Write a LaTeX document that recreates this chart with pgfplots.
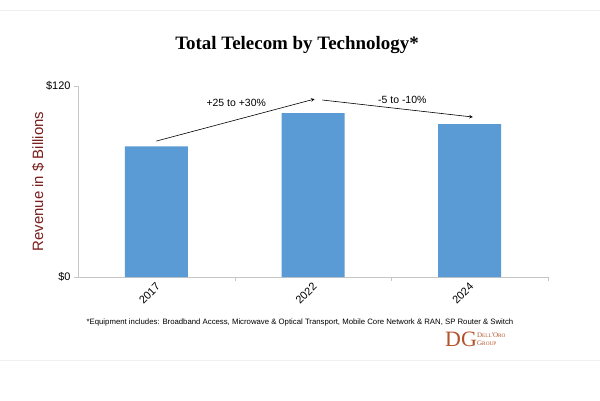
\documentclass[border=0pt]{standalone}
\usepackage{pgfplots}
\pgfplotsset{compat=1.18}
\usepackage{fontspec}
\setmainfont{Liberation Sans}
\newfontfamily\seriffont{Liberation Serif}
\definecolor{barblue}{HTML}{5B9BD5}
\definecolor{ylabred}{HTML}{7B1E1E}
\definecolor{logo}{HTML}{B4532A}
\begin{document}
\begin{tikzpicture}[x=1bp,y=1bp]
\path[use as bounding box,fill=white] (0,0) rectangle (600,400);
\draw[gray!12,line width=0.6bp] (0,390) -- (600,390);
\draw[gray!12,line width=0.6bp] (0,40) -- (600,40);
\node[font=\seriffont\bfseries\fontsize{19}{22}\selectfont] at (297,355) {Total Telecom by Technology*};
\begin{axis}[
  at={(78bp,123bp)}, anchor=south west,
  scale only axis, width=470bp, height=191bp,
  xmin=-0.5, xmax=2.5, ymin=0, ymax=120,
  axis x line*=bottom, axis y line*=left,
  axis line style={-, draw=gray!45, line width=0.7bp},
  xtick={0,1,2}, xticklabels={2017,2022,2024},
  minor xtick={0.5,1.5,2.5},
  major x tick style={draw=none},
  minor x tick style={draw=gray!45},
  ytick={0,120}, yticklabels={\$0,\$120},
  y tick style={draw=gray!45},
  tick align=outside, major tick length=4bp, minor tick length=4bp,
  /pgf/number format/assume math mode=true,
  tick label style={font=\fontsize{11}{13}\selectfont},
  x tick label style={rotate=45, anchor=east, yshift=-4bp, xshift=2bp},
  ylabel={Revenue in \$ Billions},
  ylabel style={font=\fontsize{15}{17}\selectfont, text=ylabred},
  ylabel shift=-5bp,
  clip=false,
]
\addplot[ybar, bar width=63bp, fill=barblue, draw=none] coordinates {(0,82) (1,103) (2,96)};
\draw[-stealth, line width=0.6bp] (axis cs:0.0,85.4) -- (axis cs:1.01,111.8);
\draw[-stealth, line width=0.6bp] (axis cs:1.06,111.2) -- (axis cs:2.02,100.5);
\node[font=\fontsize{10.5}{12}\selectfont] at (axis cs:0.51,109.5) {+25 to +30\%};
\node[font=\fontsize{10.5}{12}\selectfont] at (axis cs:1.57,111.5) {-5 to -10\%};
\end{axis}
\node[font=\fontsize{7.8}{9}\selectfont] at (300,78) {*Equipment includes: Broadband Access, Microwave \& Optical Transport, Mobile Core Network \& RAN, SP Router \& Switch};
\node[font=\seriffont\fontsize{22}{24}\selectfont, text=logo, inner sep=0] at (461,61) {DG};
\node[font=\seriffont\fontsize{7}{7}\selectfont, text=logo, align=left, anchor=west, inner sep=0] at (477,61) {D{\fontsize{5.3}{6}\selectfont ELL}'O{\fontsize{5.3}{6}\selectfont RO}\\[1bp]G{\fontsize{5.3}{6}\selectfont ROUP}};
\end{tikzpicture}
\end{document}
